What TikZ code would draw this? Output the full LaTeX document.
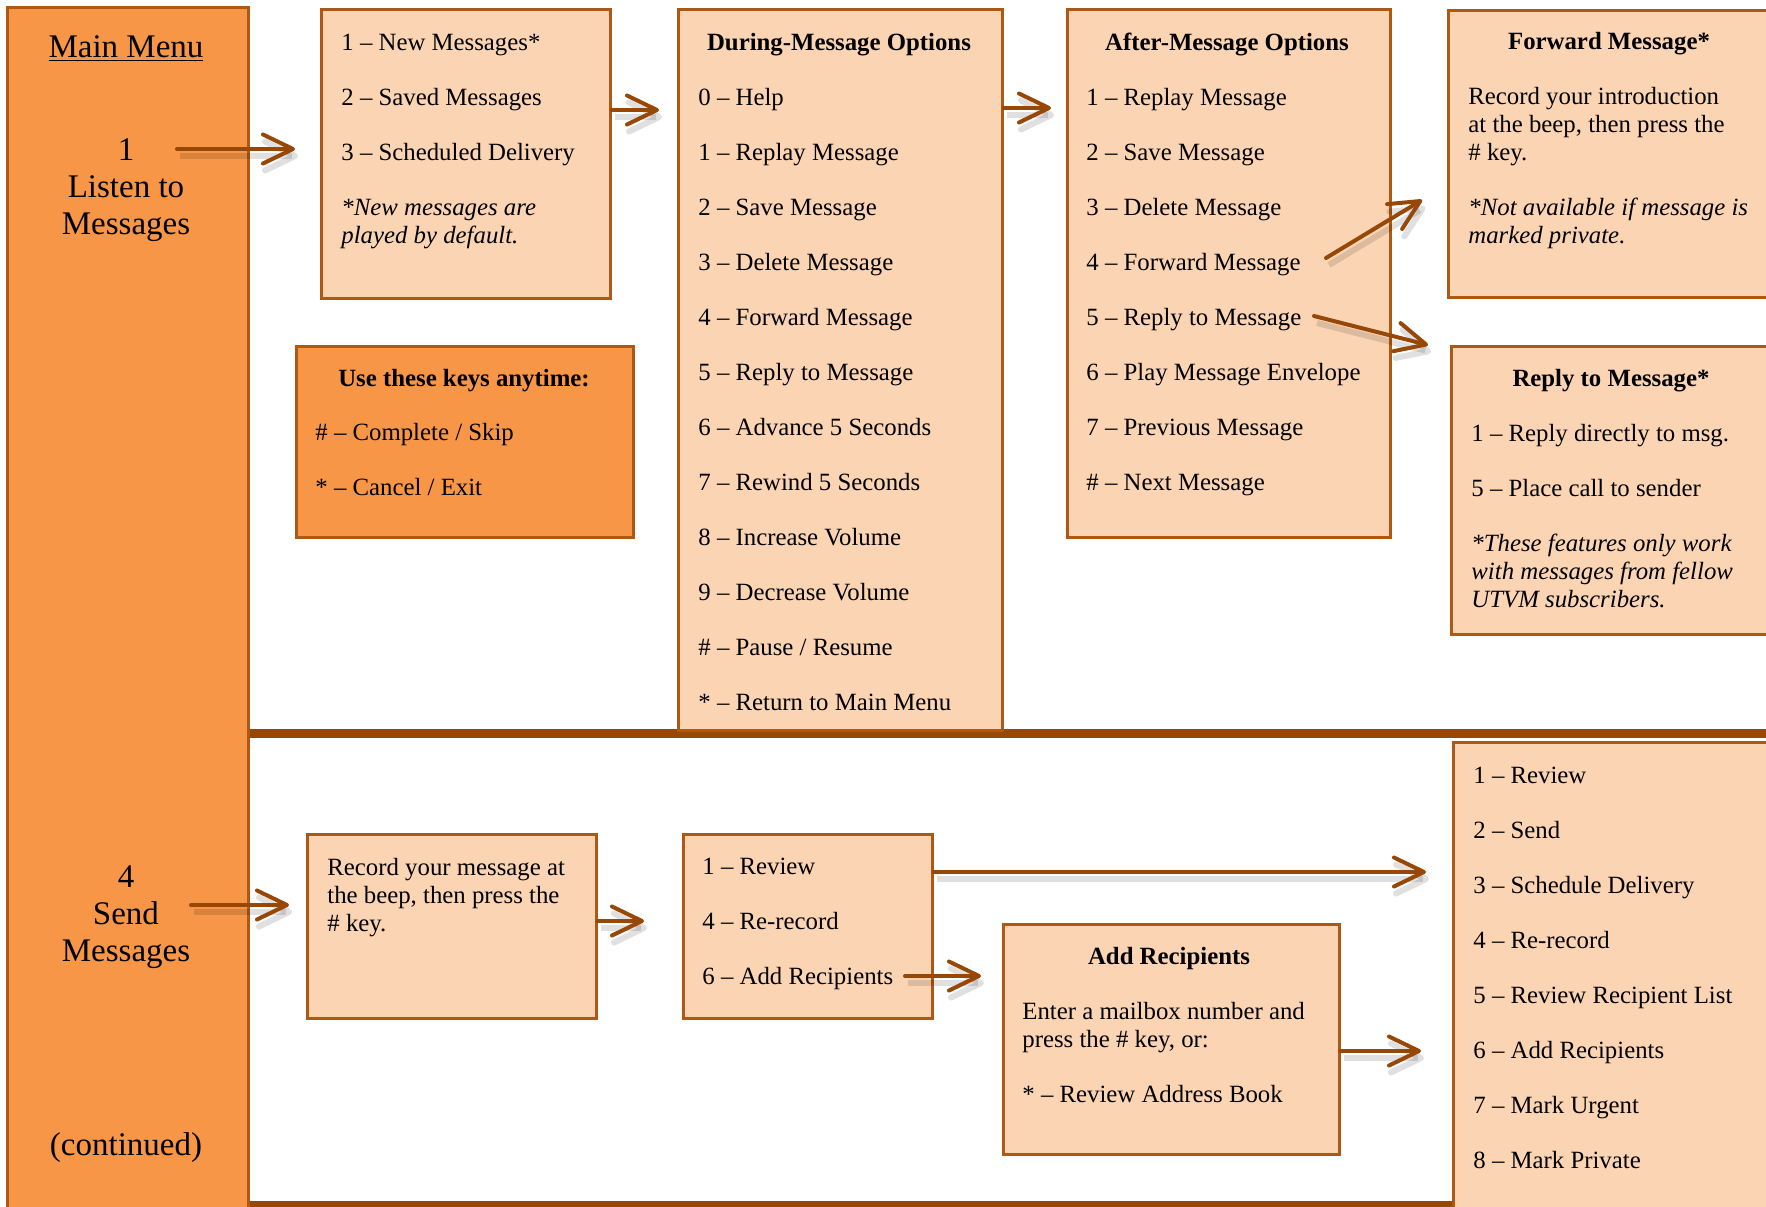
\documentclass[tikz,border=0pt]{standalone}
\usepackage{fontspec}
\setmainfont{Liberation Serif}
\usetikzlibrary{
	arrows.meta
}
\definecolor{menuorange}{HTML}{F79646}
\definecolor{optfill}{HTML}{FBD4B4}
\definecolor{optline}{HTML}{AD5813}
\definecolor{arrowbrown}{HTML}{974806}
\newcommand{\nextopt}{\\[13.5pt]}
\tikzset{
	menucol/.style={
		draw=optline, fill=menuorange, line width=1.25pt,
		anchor=north west, inner sep=0pt,
		minimum width=120.5pt, minimum height=607pt
	},
	optbox/.style={
		draw=optline, fill=optfill, line width=1.25pt,
		anchor=north west, inner sep=0pt
	},
	keybox/.style={
		optbox, fill=menuorange
	},
	% multi-line texts sit on the baseline of their last line
	opttext/.style={
		anchor=base west, inner sep=0pt, align=left,
		font=\fontsize{12.4}{14}\selectfont
	},
	opttitle/.style={
		anchor=base, inner sep=0pt,
		font=\fontsize{12.4}{14}\selectfont\bfseries
	},
	menutext/.style={
		anchor=base, inner sep=0pt, align=center,
		font=\fontsize{16.5}{18.5}\selectfont
	},
	every edge/.append style={
		draw=arrowbrown, line width=2pt, line cap=round,
		-{Straight Barb[length=15pt,width=14.5pt,round]},
		preaction={draw=black, opacity=0.12, line width=3pt,
			transform canvas={shift={(1.5pt,-3.5pt)}}}
	}
}

\begin{document}
\begin{tikzpicture}[x=0.5pt,y=-0.5pt]
	\useasboundingbox (0,0) rectangle (1766,1206);
	\clip (0,0) rectangle (1766,1206);

	% section bars
	\fill[arrowbrown] (247,729) rectangle (1780,738);
	\fill[arrowbrown] (247,1201) rectangle (1780,1215);

	% boxes
	\node[menucol] (menu) at (6,6) {};
	\node[optbox,minimum width=144.5pt,minimum height=144.5pt] (listen) at (320,8) {};
	\node[optbox,minimum width=162pt,minimum height=360.5pt]   (during) at (677,8) {};
	\node[optbox,minimum width=161.5pt,minimum height=264pt]   (after)  at (1066,8) {};
	\node[optbox,minimum width=166.5pt,minimum height=143.5pt] (fwd)    at (1447,9) {};
	\node[optbox,minimum width=165pt,minimum height=144pt]     (reply)  at (1450,345) {};
	\node[keybox,minimum width=168.5pt,minimum height=95.5pt]  (keys)   at (295,345) {};
	\node[optbox,minimum width=144.5pt,minimum height=92pt]    (record) at (306,833) {};
	\node[optbox,minimum width=124.5pt,minimum height=92pt]    (review) at (682,833) {};
	\node[optbox,minimum width=168pt,minimum height=115pt]     (addrec) at (1002,923) {};
	\node[optbox,minimum width=164pt,minimum height=237pt]     (sendopt) at (1452,741) {};

	% main menu
	\node[menutext] (mainmenu) at (126,57)   {\underline{Main Menu}};
	\node[menutext] (listento) at (126,234)  {1\\Listen to\\Messages};
	\node[menutext] (sendmsg)  at (126,961)  {4\\Send\\Messages};
	\node[menutext] (cont)     at (126,1155) {(continued)};

	% texts
	\node[opttext] (listen-txt) at (341,243) {1 -- New Messages*\nextopt
		2 -- Saved Messages\nextopt
		3 -- Scheduled Delivery\nextopt
		\textit{*New messages are}\\\textit{played by default.}};

	\node[opttitle] (during-head) at (839,50) {During-Message Options};
	\node[opttext] (during-txt) at (698,710) {0 -- Help\nextopt
		1 -- Replay Message\nextopt
		2 -- Save Message\nextopt
		3 -- Delete Message\nextopt
		4 -- Forward Message\nextopt
		5 -- Reply to Message\nextopt
		6 -- Advance 5 Seconds\nextopt
		7 -- Rewind 5 Seconds\nextopt
		8 -- Increase Volume\nextopt
		9 -- Decrease Volume\nextopt
		\# -- Pause / Resume\nextopt
		* -- Return to Main Menu};

	\node[opttitle] (after-head) at (1227,50) {After-Message Options};
	\node[opttext] (after-txt) at (1086,490) {1 -- Replay Message\nextopt
		2 -- Save Message\nextopt
		3 -- Delete Message\nextopt
		4 -- Forward Message\nextopt
		5 -- Reply to Message\nextopt
		6 -- Play Message Envelope\nextopt
		7 -- Previous Message\nextopt
		\# -- Next Message};

	\node[opttitle] (fwd-head) at (1609,49) {Forward Message*};
	\node[opttext] (fwd-txt) at (1468,243) {Record your introduction\\
		at the beep, then press the\\\# key.\nextopt
		\textit{*Not available if message is}\\\textit{marked private.}};

	\node[opttitle] (reply-head) at (1611,386) {Reply to Message*};
	\node[opttext] (reply-txt) at (1471,607) {1 -- Reply directly to msg.\nextopt
		5 -- Place call to sender\nextopt
		\textit{*These features only work}\\
		\textit{with messages from fellow}\\
		\textit{UTVM subscribers.}};

	\node[opttitle] (keys-head) at (464,386) {Use these keys anytime:};
	\node[opttext] (keys-txt) at (315,495) {\# -- Complete / Skip\nextopt
		* -- Cancel / Exit};

	\node[opttext] (record-txt) at (327,931) {Record your message at\\
		the beep, then press the\\\# key.};

	\node[opttext] (review-txt) at (702,984) {1 -- Review\nextopt
		4 -- Re-record\nextopt
		6 -- Add Recipients};

	\node[opttitle] (addrec-head) at (1169,964) {Add Recipients};
	\node[opttext] (addrec-txt) at (1022,1102) {Enter a mailbox number and\\
		press the \# key, or:\nextopt
		* -- Review Address Book};

	\node[opttext] (sendopt-txt) at (1473,1168) {1 -- Review\nextopt
		2 -- Send\nextopt
		3 -- Schedule Delivery\nextopt
		4 -- Re-record\nextopt
		5 -- Review Recipient List\nextopt
		6 -- Add Recipients\nextopt
		7 -- Mark Urgent\nextopt
		8 -- Mark Private};

	% arrow ends
	\coordinate (listen-from) at (177,149);
	\coordinate (listen-to)   at (295,149);
	\coordinate (during-to)   at (659,110);
	\coordinate (after-to)    at (1051,108);
	\coordinate (fwd-from)    at (1326,258);
	\coordinate (fwd-to)      at (1422,200);
	\coordinate (reply-from)  at (1314,316);
	\coordinate (reply-to)    at (1428,345);
	\coordinate (send-from)   at (191,905);
	\coordinate (record-to)   at (289,905);
	\coordinate (review-to)   at (644,921);
	\coordinate (sendopt-to)  at (1426,872);
	\coordinate (addrec-from) at (905,976);
	\coordinate (addrec-to)   at (981,976);
	\coordinate (list-to)     at (1421,1051);

	\path
		(listen-from)           edge (listen-to)
		(listen.east |- during-to) edge (during-to)
		(during.east |- after-to)  edge (after-to)
		(fwd-from)              edge (fwd-to)
		(reply-from)            edge (reply-to)
		(send-from)             edge (record-to)
		(record.east |- review-to) edge (review-to)
		(review.east |- sendopt-to) edge (sendopt-to)
		(addrec-from)           edge (addrec-to)
		(addrec.east |- list-to)   edge (list-to)
	;
\end{tikzpicture}
\end{document}
